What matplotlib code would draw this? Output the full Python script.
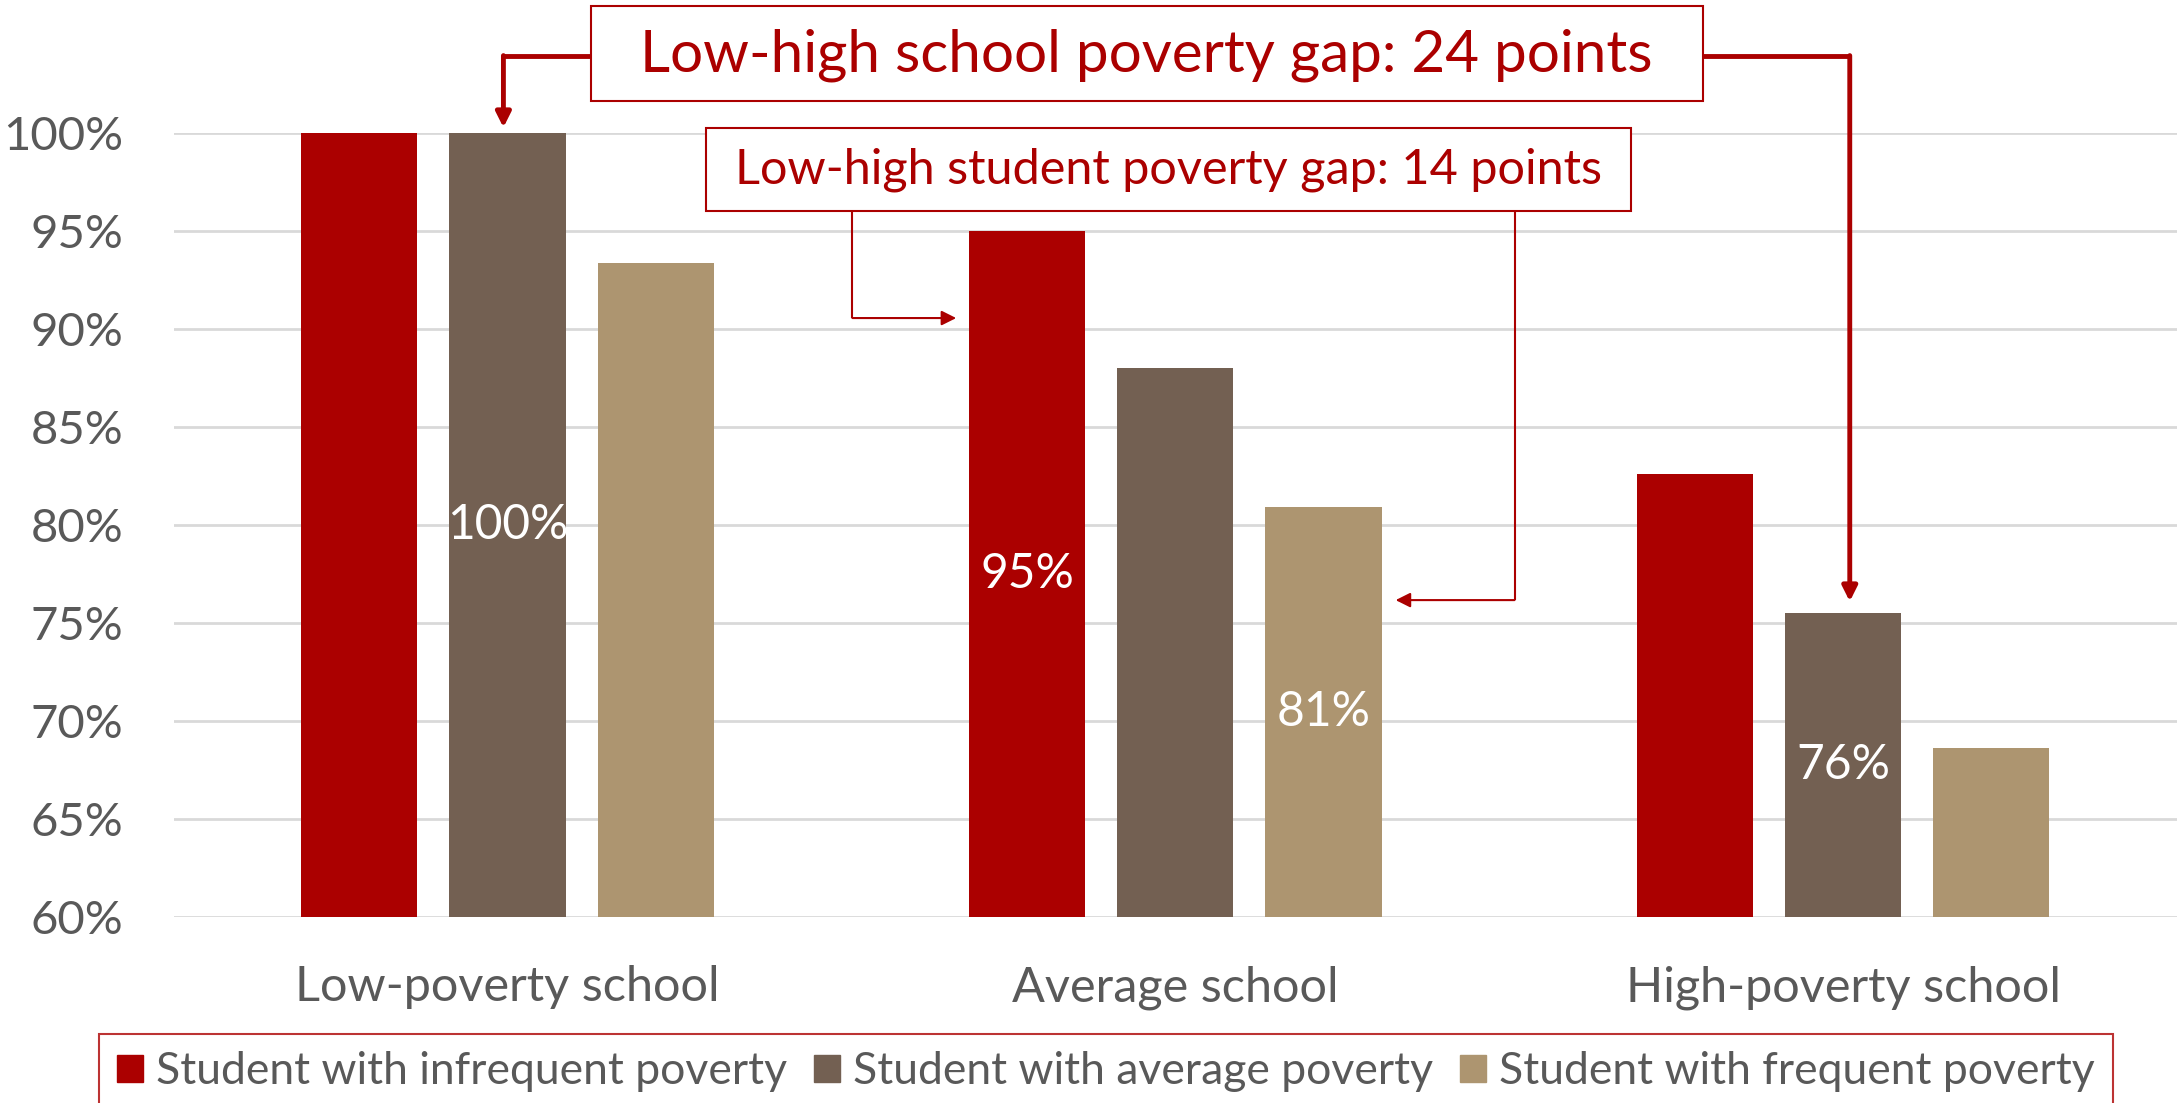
import matplotlib.pyplot as plt
import numpy as np
from matplotlib.patches import Patch, Rectangle

# Data
schools = ['Low-poverty school', 'Average school', 'High-poverty school']
series = ['Student with infrequent poverty', 'Student with average poverty',
          'Student with frequent poverty']
infrequent = [100.0, 95.0, 82.6]
average = [100.0, 88.0, 75.5]
frequent = [93.4, 80.9, 68.6]
yticks = [60, 65, 70, 75, 80, 85, 90, 95, 100]

# labels shown inside bars: (series index, school index)
shown_labels = [(1, 0), (0, 1), (2, 1), (1, 2)]

school_gap = 'Low-high school poverty gap: 24 points'
student_gap = 'Low-high student poverty gap: 14 points'

RED = '#AB0000'
BROWN = '#736052'
TAN = '#AD9570'
GRAY = '#595959'
colors = [RED, BROWN, TAN]

plt.rcParams['font.family'] = ['Lato', 'DejaVu Sans']

fig = plt.figure(figsize=(21.77, 11.03), dpi=100)
ax = fig.add_axes([0.0797, 0.1688, 0.9203, 0.7103])

x = np.arange(len(schools))
width = 0.174
step = 0.222
values = [infrequent, average, frequent]
for i, vals in enumerate(values):
    ax.bar(x + (i - 1) * step, vals, width, color=colors[i], zorder=2)

ax.set_ylim(60, 100)
ax.set_xlim(-0.5, 2.5)
ax.set_yticks(yticks)
ax.set_yticklabels([f'{t}%' for t in yticks])
ax.set_xticks(x)
ax.set_xticklabels(schools)
ax.tick_params(axis='y', length=0, pad=36, labelsize=34, labelcolor=GRAY)
ax.tick_params(axis='x', length=0, pad=35, labelsize=35, labelcolor=GRAY)
ax.grid(axis='y', color='#D9D9D9', lw=2, zorder=0)
for s in ax.spines.values():
    s.set_visible(False)

for si, ci in shown_labels:
    v = values[si][ci]
    ax.text(x[ci] + (si - 1) * step, (60 + v) / 2, f'{v:.0f}%', color='white',
            fontsize=34.5, ha='center', va='center', zorder=3)

# annotation boxes (drawn above the plot area)
for (x0, x1, y0, y1) in [(0.1245, 1.790, 101.63, 106.52),
                         (0.297, 1.683, 96.03, 100.28)]:
    ax.add_patch(Rectangle((x0, y0), x1 - x0, y1 - y0, fc='white', ec=RED,
                           lw=1.5, clip_on=False, zorder=5))
ax.text(0.957, 103.97, school_gap, fontsize=42, color=RED, ha='center',
        va='center', clip_on=False, zorder=6)
ax.text(0.99, 98.16, student_gap, fontsize=35, color=RED, ha='center',
        va='center', clip_on=False, zorder=6)


def elbow(points, lw):
    xs, ys = zip(*points[:-1])
    ax.plot(xs, ys, color=RED, lw=lw, clip_on=False, zorder=4,
            solid_capstyle='butt')
    ax.annotate('', xy=points[-1], xytext=points[-2], zorder=4,
                annotation_clip=False,
                arrowprops=dict(arrowstyle='-|>', color=RED, lw=lw,
                                shrinkA=0, shrinkB=0, mutation_scale=22))


# school gap arrows
elbow([(0.1245, 103.97), (-0.006, 103.97), (-0.006, 100.3)], 3.5)
elbow([(1.79, 103.97), (2.01, 103.97), (2.01, 76.1)], 3.5)
# student gap arrows
elbow([(0.5166, 96.03), (0.5166, 90.57), (0.672, 90.57)], 1.5)
elbow([(1.508, 96.03), (1.508, 76.17), (1.33, 76.17)], 1.5)

handles = [Patch(color=c) for c in colors]
leg = fig.legend(handles, series, loc='upper center', ncol=3,
                 bbox_to_anchor=(0.508, 0.063), fontsize=32,
                 frameon=True, fancybox=False, handlelength=0.58,
                 handleheight=0.58, handletextpad=0.3, columnspacing=0.6,
                 borderpad=0.4, borderaxespad=0)
leg.get_frame().set_edgecolor(RED)
leg.get_frame().set_linewidth(1.5)
for t in leg.get_texts():
    t.set_color(GRAY)

fig.savefig('out.png', dpi=100)
